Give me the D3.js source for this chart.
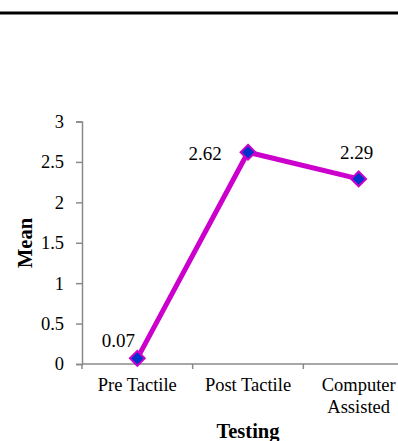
<!DOCTYPE html>
<html>
<head>
<meta charset="utf-8">
<script src="https://cdn.jsdelivr.net/npm/d3@7"></script>
<style>
  html, body { margin: 0; padding: 0; background: #fff; }
  svg { display: block; }
  svg text { font-family: "Liberation Serif", "Times New Roman", serif !important; fill: #000; }
</style>
</head>
<body>
<svg id="chart" width="398" height="441"></svg>
<script>
const categories = ["Pre Tactile", "Post Tactile", "Computer|Assisted"];
const meanValues = [0.07, 2.62, 2.29];
const yTicks = [0, 0.5, 1, 1.5, 2, 2.5, 3];
const yTickLabels = ["0", "0.5", "1", "1.5", "2", "2.5", "3"];
const valueLabels = ["0.07", "2.62", "2.29"];
const xTitle = "Testing";
const yTitle = "Mean";

const FONT = "'Liberation Serif', 'Times New Roman', serif";
const svg = d3.select("#chart").attr("font-family", FONT);

// rule at top
svg.append("line")
  .attr("x1", 0).attr("x2", 398).attr("y1", 13).attr("y2", 13)
  .attr("stroke", "#000").attr("stroke-width", 3);

const x = d3.scaleBand().domain(categories).range([82, 414]).paddingInner(0).paddingOuter(0);
const y = d3.scaleLinear().domain([0, 3]).range([364, 121.5]);
const axisColor = "#8a8a8a";

// y axis
const yAxis = svg.append("g").attr("transform", "translate(82,0)")
  .call(d3.axisLeft(y).tickValues(yTicks).tickFormat((d, i) => yTickLabels[i]).tickSize(6).tickPadding(12));
yAxis.attr("font-family", FONT);
yAxis.select(".domain").attr("stroke", axisColor).attr("stroke-width", 1.5);
yAxis.selectAll(".tick line").attr("stroke", axisColor).attr("stroke-width", 1.5);
yAxis.selectAll(".tick text").style("font-size", "18.5px").style("font-family", FONT).attr("fill", "#000");

// x axis
const xAxis = svg.append("g").attr("transform", "translate(0,364)");
xAxis.append("line").attr("x1", 82).attr("x2", 398).attr("y1", 0).attr("y2", 0)
  .attr("stroke", axisColor).attr("stroke-width", 1.5);
const bounds = categories.map(c => x(c)).concat([x(categories[categories.length - 1]) + x.bandwidth()]);
xAxis.selectAll("line.xt").data(bounds).enter().append("line").attr("class", "xt")
  .attr("x1", d => d).attr("x2", d => d).attr("y1", 0).attr("y2", 5)
  .attr("stroke", axisColor).attr("stroke-width", 1.5);
const xl = xAxis.selectAll("text.xl").data(categories).enter().append("text").attr("class", "xl")
  .attr("x", d => x(d) + x.bandwidth() / 2)
  .attr("y", 27)
  .attr("text-anchor", "middle")
  .style("font-family", FONT)
  .style("font-size", "18.5px");
xl.each(function(d) {
  const parts = d.split("|");
  const t = d3.select(this);
  parts.forEach((p, i) => {
    t.append("tspan").attr("x", x(d) + x.bandwidth() / 2).attr("dy", i === 0 ? 0 : 22).text(p);
  });
});

// axis titles
svg.append("text").attr("x", 248).attr("y", 438).attr("text-anchor", "middle")
  .style("font-family", FONT).style("font-size", "20.5px").style("font-weight", "bold").text(xTitle);
svg.append("text").attr("transform", "translate(32,243) rotate(-90)").attr("text-anchor", "middle")
  .style("font-family", FONT).style("font-size", "20.5px").style("font-weight", "bold").text(yTitle);

// line
const cx = (d, i) => x(categories[i]) + x.bandwidth() / 2;
const line = d3.line().x((d, i) => cx(d, i)).y(d => y(d));
svg.append("path").datum(meanValues)
  .attr("d", line).attr("fill", "none")
  .attr("stroke", "#CC00CC").attr("stroke-width", 5).attr("stroke-linejoin", "miter");

// markers
const sym = d3.symbol().type(d3.symbolDiamond2).size(140);
svg.selectAll("path.mk").data(meanValues).enter().append("path").attr("class", "mk")
  .attr("transform", (d, i) => `translate(${cx(d, i)},${y(d)})`)
  .attr("d", sym).attr("fill", "#0033CC").attr("stroke", "#CC00CC").attr("stroke-width", 2);

// value labels (placement offsets)
const labelOffsets = [[-19, -11], [-43, 8], [-2, -20]];
svg.selectAll("text.vl").data(meanValues).enter().append("text").attr("class", "vl")
  .attr("x", (d, i) => cx(d, i) + labelOffsets[i][0])
  .attr("y", (d, i) => y(d) + labelOffsets[i][1])
  .attr("text-anchor", "middle")
  .style("font-family", FONT)
  .style("font-size", "19px")
  .text((d, i) => valueLabels[i]);
</script>
</body>
</html>
